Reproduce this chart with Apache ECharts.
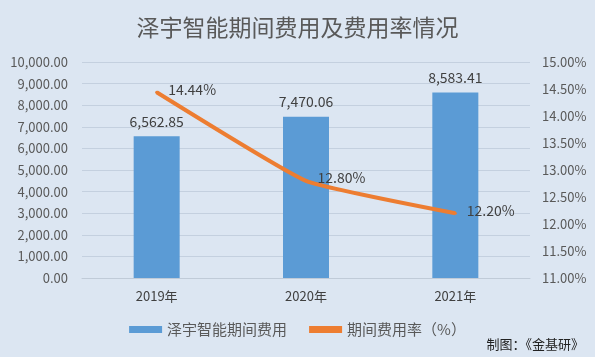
<!DOCTYPE html>
<html><head><meta charset="utf-8">
<script src="https://cdn.jsdelivr.net/npm/echarts@6/dist/echarts.min.js"></script>
<style>html,body{margin:0;padding:0;background:#dce6f2;}#c{width:595px;height:357px;}</style>
</head><body><div id="c"></div>
<script>
const categories = ['2019年', '2020年', '2021年'];
const expenseValues = [6562.85, 7470.06, 8583.41];
const rateValues = [14.44, 12.80, 12.20];
const seriesNames = ['泽宇智能期间费用', '期间费用率（%）'];
const titleText = '泽宇智能期间费用及费用率情况';
const sourceText = '制图：《金基研》';

const chart = echarts.init(document.getElementById('c'));
const fontFam = '"Noto Sans CJK SC", "Liberation Sans", sans-serif';
chart.setOption({
  backgroundColor: '#dce6f2',
  animation: false,
  textStyle: { fontFamily: fontFam },
  title: [{
    text: titleText, left: 'center', top: 11,
    textStyle: { fontSize: 23, fontWeight: 'normal', color: '#595959', fontFamily: fontFam }
  }, {
    text: sourceText, right: 6, bottom: 1,
    textStyle: { fontSize: 13, fontWeight: 'normal', color: '#222', fontFamily: fontFam }
  }],
  legend: {
    bottom: 15, left: 'center', itemGap: 22, itemWidth: 33, itemHeight: 7,
    textStyle: { fontSize: 15, color: '#595959', fontFamily: fontFam },
    data: [{ name: seriesNames[0], icon: 'rect' }, { name: seriesNames[1], icon: 'rect' }]
  },
  grid: { left: 82, right: 65, top: 62, bottom: 79 },
  xAxis: {
    type: 'category', data: categories,
    axisLine: { lineStyle: { color: '#c0cbd8' } }, axisTick: { show: false },
    axisLabel: { fontSize: 13, color: '#404040', margin: 12 }
  },
  yAxis: [{
    type: 'value', min: 0, max: 10000, interval: 1000,
    axisLabel: { fontSize: 13, color: '#595959', margin: 14, formatter: v => v.toLocaleString('en-US', { minimumFractionDigits: 2, maximumFractionDigits: 2 }) },
    splitLine: { lineStyle: { color: '#c4d0df' } },
    axisLine: { show: false }, axisTick: { show: false }
  }, {
    type: 'value', min: 11, max: 15, interval: 0.5,
    axisLabel: { fontSize: 13, color: '#595959', margin: 12, formatter: v => v.toFixed(2) + '%' },
    splitLine: { show: false }, axisLine: { show: false }, axisTick: { show: false }
  }],
  series: [{
    name: seriesNames[0], type: 'bar', data: expenseValues, barWidth: 46,
    itemStyle: { color: '#5b9bd5' },
    label: { show: true, position: 'top', distance: 8, fontSize: 14, color: '#404040',
      formatter: p => p.value.toLocaleString('en-US', { minimumFractionDigits: 2, maximumFractionDigits: 2 }) }
  }, {
    name: seriesNames[1], type: 'line', yAxisIndex: 1, data: rateValues, smooth: 0.12,
    symbol: 'circle', symbolSize: 3, showSymbol: true,
    lineStyle: { color: '#ed7d31', width: 4 }, itemStyle: { color: '#ed7d31' },
    label: { show: true, position: 'right', distance: 10, fontSize: 14, color: '#404040', offset: [0, -3],
      formatter: p => p.value.toFixed(2) + '%' }
  }]
});
</script></body></html>
